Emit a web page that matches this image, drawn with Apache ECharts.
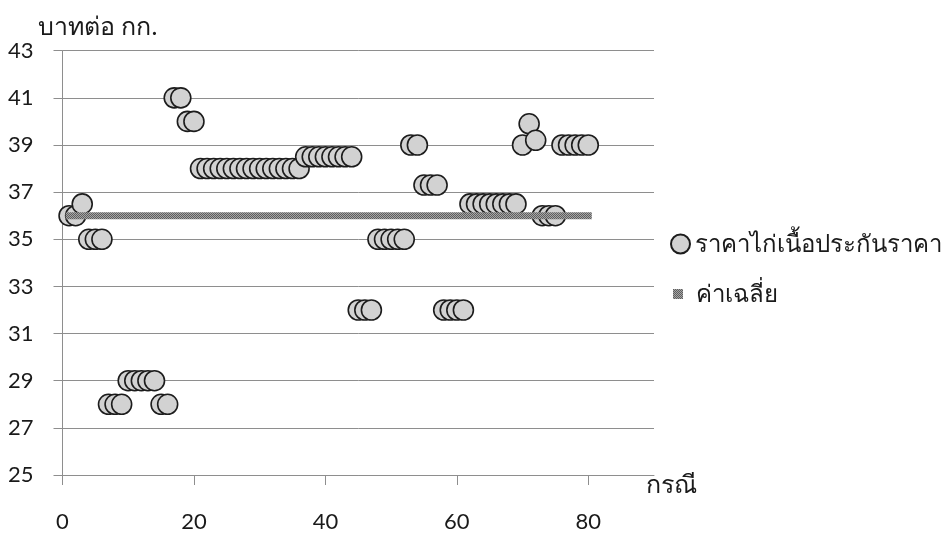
<!DOCTYPE html>
<html>
<head>
<meta charset="utf-8">
<script src="https://cdn.jsdelivr.net/npm/echarts@6/dist/echarts.min.js"></script>
<style>
  html, body { margin: 0; padding: 0; background: #fff; }
  #chart { width: 942px; height: 535px; }
</style>
</head>
<body>
<div id="chart"></div>
<script>
// Guaranteed chicken price per case (baht per kg)
const caseNo = [
  1, 2, 3, 4, 5, 6, 7, 8, 9, 10,
  11, 12, 13, 14, 15, 16, 17, 18, 19, 20,
  21, 22, 23, 24, 25, 26, 27, 28, 29, 30,
  31, 32, 33, 34, 35, 36, 37, 38, 39, 40,
  41, 42, 43, 44, 45, 46, 47, 48, 49, 50,
  51, 52, 53, 54, 55, 56, 57, 58, 59, 60,
  61, 62, 63, 64, 65, 66, 67, 68, 69, 70,
  71, 72, 73, 74, 75, 76, 77, 78, 79, 80
];
const price = [
  36, 36, 36.5, 35, 35, 35, 28, 28, 28, 29,
  29, 29, 29, 29, 28, 28, 41, 41, 40, 40,
  38, 38, 38, 38, 38, 38, 38, 38, 38, 38,
  38, 38, 38, 38, 38, 38, 38.5, 38.5, 38.5, 38.5,
  38.5, 38.5, 38.5, 38.5, 32, 32, 32, 35, 35, 35,
  35, 35, 39, 39, 37.3, 37.3, 37.3, 32, 32, 32,
  32, 36.5, 36.5, 36.5, 36.5, 36.5, 36.5, 36.5, 36.5, 39,
  39.9, 39.2, 36, 36, 36, 39, 39, 39, 39, 39
];
// Average line endpoints
const avgX = [1, 80];
const avgValue = [36, 36];

const xTicks = [0, 20, 40, 60, 80];
const yTicks = [25, 27, 29, 31, 33, 35, 37, 39, 41, 43];

const seriesNames = ['ราคาไก่เนื้อประกันราคา', 'ค่าเฉลี่ย'];
const yTitle = 'บาทต่อ กก.';
const xTitle = 'กรณี';

// Fine stipple texture for the average band
function makePattern(a, b) {
  const c = document.createElement('canvas');
  c.width = 4; c.height = 4;
  const g = c.getContext('2d');
  g.fillStyle = b; g.fillRect(0, 0, 4, 4);
  g.fillStyle = a;
  g.fillRect(0, 0, 1, 1); g.fillRect(2, 0, 1, 1);
  g.fillRect(1, 1, 1, 1); g.fillRect(3, 1, 1, 1);
  g.fillRect(0, 2, 1, 1); g.fillRect(2, 2, 1, 1);
  g.fillRect(1, 3, 1, 1); g.fillRect(3, 3, 1, 1);
  return { image: c, repeat: 'repeat' };
}
const bandFill = makePattern('#5e5e5e', '#a6a6a6');

const FONT = 'Lato, "Noto Sans", "DejaVu Sans", sans-serif';
const gridColor = '#8e8e8e';

const chart = echarts.init(document.getElementById('chart'), null, { renderer: 'canvas' });

chart.setOption({
  animation: false,
  backgroundColor: '#fff',
  textStyle: { fontFamily: FONT },
  title: {
    text: yTitle,
    left: 33, top: 9,
    textStyle: { fontFamily: FONT, fontSize: 25, fontWeight: 'normal', color: '#1a1a1a' }
  },
  graphic: [{
    type: 'text', left: 646, top: 472,
    style: { text: xTitle, fontFamily: FONT, fontSize: 25, fill: '#1a1a1a' }
  }],
  grid: { left: 62.5, right: 288, top: 50.7, bottom: 60, containLabel: false },
  legend: [{
    data: [{ name: seriesNames[0], icon: 'circle' }],
    orient: 'vertical', left: 665, top: 227,
    itemWidth: 19, itemHeight: 19,
    textStyle: { fontFamily: FONT, fontSize: 24, color: '#1a1a1a' }
  }, {
    data: [{ name: seriesNames[1], icon: 'rect' }],
    orient: 'vertical', left: 668, top: 277,
    itemWidth: 10, itemHeight: 10,
    textStyle: { fontFamily: FONT, fontSize: 24, color: '#1a1a1a', padding: [0, 0, 0, 8] }
  }],
  xAxis: {
    type: 'value', min: 0, max: 90,
    axisLine: { show: true, onZero: false, lineStyle: { color: gridColor, width: 1 } },
    axisTick: { show: true, length: 10, customValues: xTicks, lineStyle: { color: gridColor } },
    axisLabel: { customValues: xTicks, margin: 36, fontSize: 22, color: '#1a1a1a', fontFamily: FONT },
    splitLine: { show: false }
  },
  yAxis: {
    type: 'value', min: 25, max: 43,
    axisLine: { show: true, lineStyle: { color: gridColor, width: 1 } },
    axisTick: { show: true, length: 9, customValues: yTicks, lineStyle: { color: gridColor } },
    axisLabel: { customValues: yTicks, margin: 29, fontSize: 22, color: '#1a1a1a', fontFamily: FONT },
    splitLine: { show: true, lineStyle: { color: gridColor, width: 1 } }
  },
  series: [{
    name: seriesNames[0],
    type: 'scatter',
    symbol: 'circle',
    symbolSize: 20,
    data: caseNo.map((c, i) => [c, price[i]]),
    itemStyle: { color: '#d2d2d2', borderColor: '#1c1c1c', borderWidth: 1.6, opacity: 1 },
    z: 2
  }, {
    name: seriesNames[1],
    type: 'line',
    symbol: 'none',
    data: avgX.map((x, i) => [x, avgValue[i]]),
    lineStyle: { color: bandFill, width: 7, cap: 'square' },
    itemStyle: { color: bandFill },
    z: 3
  }]
});
</script>
</body>
</html>
